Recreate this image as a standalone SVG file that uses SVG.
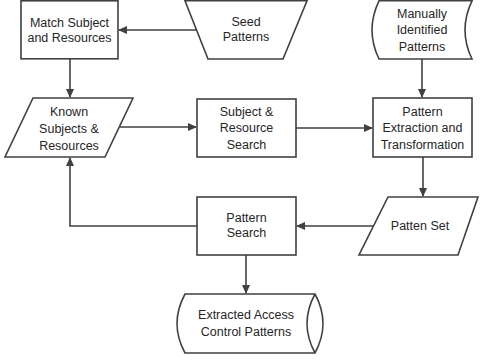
<svg xmlns="http://www.w3.org/2000/svg" width="483" height="360" viewBox="0 0 483 360">
<style>
.s{fill:#fff;stroke:#404040;stroke-width:1.6}
.c{fill:none;stroke:#404040;stroke-width:1.6}
text{font-family:"Liberation Sans",Arial,sans-serif;font-size:12.5px;fill:#262626;text-anchor:middle}
</style>
<defs>
<marker id="a" markerWidth="10" markerHeight="10" refX="8" refY="4" orient="auto" markerUnits="userSpaceOnUse">
<path d="M0,0 L9,4 L0,8 Z" fill="#404040"/>
</marker>
</defs>
<rect width="483" height="360" fill="#fff"/>
<g id="connectors">
<path class="c" d="M197,30 H119" marker-end="url(#a)"/>
<path class="c" d="M70,59 V97" marker-end="url(#a)"/>
<path class="c" d="M422,59 V97" marker-end="url(#a)"/>
<path class="c" d="M120,127 H196" marker-end="url(#a)"/>
<path class="c" d="M296,128 H372" marker-end="url(#a)"/>
<path class="c" d="M423,157 V196" marker-end="url(#a)"/>
<path class="c" d="M374,226 H297" marker-end="url(#a)"/>
<path class="c" d="M197,226 H70 V158" marker-end="url(#a)"/>
<path class="c" d="M246,255 V293" marker-end="url(#a)"/>
</g>
<g id="match">
<rect class="s" x="21" y="0.8" width="97" height="58"/>
<text x="69.5" y="27">Match Subject</text>
<text x="69.5" y="42">and Resources</text>
</g>
<g id="seed">
<path class="s" d="M185,0.8 H307 L283,59 H208 Z"/>
<text x="246" y="26">Seed</text>
<text x="246" y="41">Patterns</text>
</g>
<g id="manual">
<path class="s" d="M379,0.8 H472 Q458,30 472,59 H379 Q365,30 379,0.8 Z"/>
<text x="422" y="18">Manually</text>
<text x="422" y="34">Identified</text>
<text x="422" y="51">Patterns</text>
</g>
<g id="known">
<path class="s" d="M33,98 H133 L105,157 H5 Z"/>
<text x="69" y="116">Known</text>
<text x="69" y="133">Subjects &amp;</text>
<text x="69" y="150">Resources</text>
</g>
<g id="srsearch">
<rect class="s" x="197" y="99" width="99" height="58"/>
<text x="246.5" y="116">Subject &amp;</text>
<text x="246.5" y="132">Resource</text>
<text x="246.5" y="149">Search</text>
</g>
<g id="extraction">
<rect class="s" x="373" y="98" width="99" height="59"/>
<text x="422.5" y="116">Pattern</text>
<text x="422.5" y="132">Extraction and</text>
<text x="422.5" y="149">Transformation</text>
</g>
<g id="pattenset">
<path class="s" d="M388,197 H478 L458,255 H359 Z"/>
<text x="420" y="230">Patten Set</text>
</g>
<g id="psearch">
<rect class="s" x="197" y="197" width="99" height="58"/>
<text x="246.5" y="222">Pattern</text>
<text x="246.5" y="237">Search</text>
</g>
<g id="extracted">
<path class="s" d="M185,294 H315 Q331,323.5 315,353 H185 Q169,323.5 185,294 Z"/>
<path class="c" d="M315,294 Q299,323.5 315,353"/>
<text x="246" y="319">Extracted Access</text>
<text x="246" y="336">Control Patterns</text>
</g>
</svg>
